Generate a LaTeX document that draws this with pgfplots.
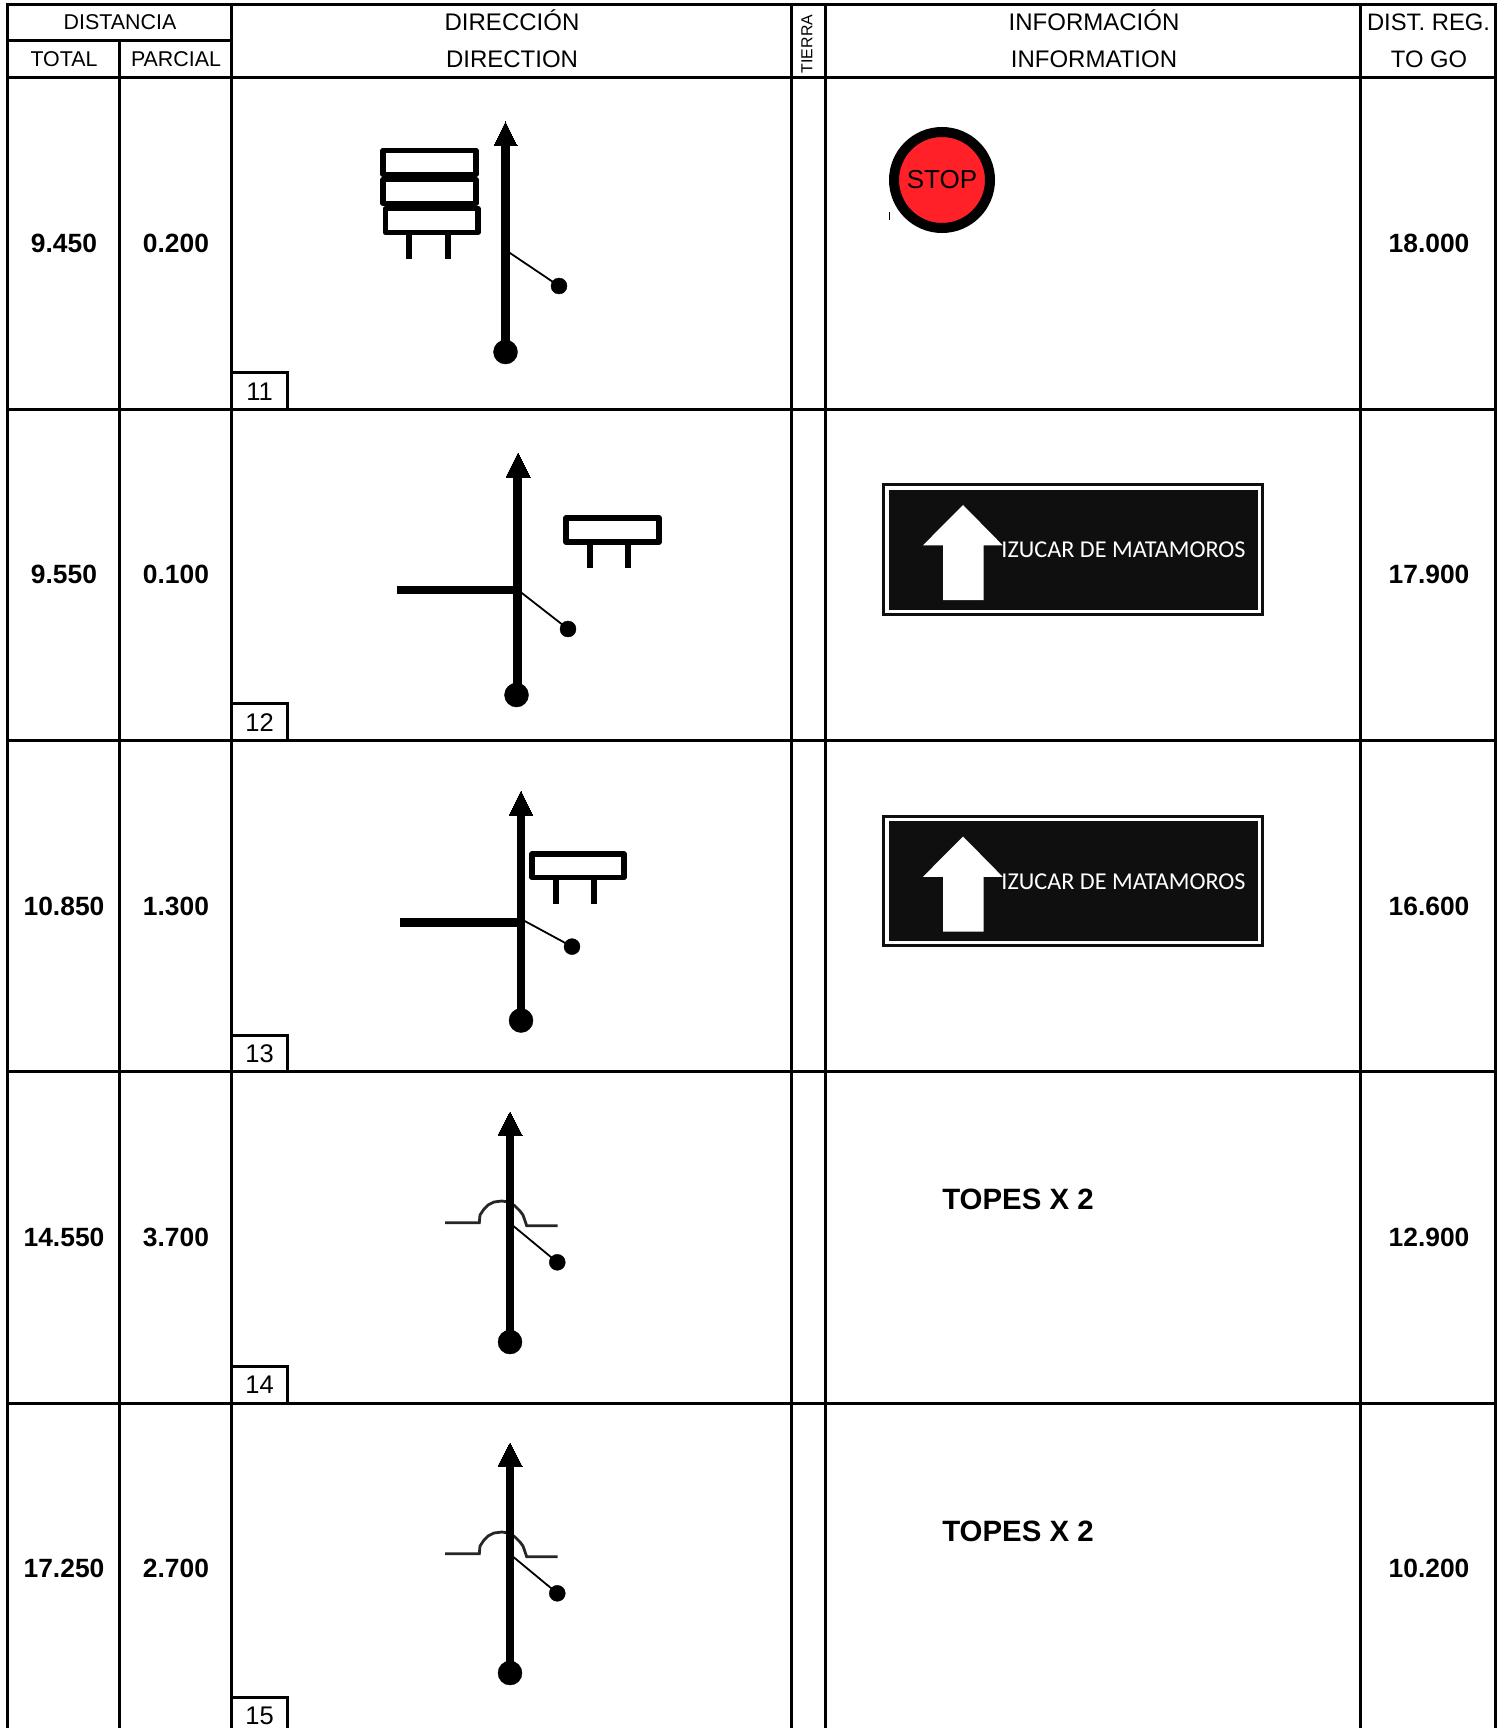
\documentclass[border=0pt]{standalone}
\usepackage{pgfplots}
\usepackage{fontspec}
\setmainfont{Liberation Sans}
\newfontfamily\calib{Carlito}
\pgfplotsset{compat=1.18}
\definecolor{signred}{HTML}{FF2028}
\definecolor{signblack}{HTML}{0F0F0F}
\newcommand{\fs}[1]{\fontsize{#1}{#1}\selectfont}
\newcommand{\hd}[4]{\node[anchor=center,inner sep=0pt] at (axis cs:#1,#2) {\fs{#3}\strut #4};}
\begin{document}
\begin{tikzpicture}
\path[use as bounding box] (0,0) rectangle (1503pt,1728pt);
\begin{axis}[
  at={(0,0)}, anchor=south west,
  scale only axis, width=1503pt, height=1728pt,
  xmin=0, xmax=1503, ymin=0, ymax=1728, y dir=reverse,
  hide axis, clip=true,
  after end axis/.code={
    \node[inner sep=0pt,text=black] at (axis cs:942,180) {\fs{26}STOP};
  },
]
% ---------- table rules
\pgfplotsset{rule/.style={black,line width=3pt,no markers,line cap=rect}}
\addplot[rule] coordinates {(7.5,4.5)(1495,4.5)};
\addplot[rule] coordinates {(7.5,41)(231,41)};
\addplot[rule] coordinates {(7.5,77.5)(1495,77.5)};
\addplot[rule] coordinates {(7.5,409)(1495,409)};
\addplot[rule] coordinates {(7.5,740)(1495,740)};
\addplot[rule] coordinates {(7.5,1071)(1495,1071)};
\addplot[rule] coordinates {(7.5,1403)(1495,1403)};
\addplot[rule] coordinates {(7.5,4.5)(7.5,1728)};
\addplot[rule] coordinates {(119,41)(119,1728)};
\addplot[rule] coordinates {(231.5,4.5)(231.5,1728)};
\addplot[rule] coordinates {(791,4.5)(791,1728)};
\addplot[rule] coordinates {(825.5,4.5)(825.5,1728)};
\addplot[rule] coordinates {(1360,4.5)(1360,1728)};
\addplot[rule] coordinates {(1495,4.5)(1495,1728)};
% ---------- kilometre boxes
\addplot[rule] coordinates {(233,372)(287.5,372)(287.5,409)};
\addplot[rule] coordinates {(233,703)(287.5,703)(287.5,740)};
\addplot[rule] coordinates {(233,1035)(287.5,1035)(287.5,1071)};
\addplot[rule] coordinates {(233,1366)(287.5,1366)(287.5,1403)};
\addplot[rule] coordinates {(233,1697)(287.5,1697)(287.5,1728)};
% ---------- stems
\pgfplotsset{stem/.style={black,line width=8.5pt,no markers},
  twig/.style={black,line width=1.8pt,no markers},
  head/.style={black,fill=black,line width=0pt,no markers},
  road/.style={black,line width=8.5pt,no markers},
  plate/.style={black,line width=5.5pt,no markers,fill=white,line join=round},
  leg/.style={black,line width=6pt,no markers},
  big/.style={only marks,mark=*,mark size=12pt,black},
  small/.style={only marks,mark=*,mark size=8pt,black},
  bump/.style={color=black!85,line width=2.8pt,no markers}}
% row 1
\addplot[stem] coordinates {(505.5,140)(505.5,352)};
\addplot[head] coordinates {(505.5,122)(517,146)(494,146)} -- cycle;
\addplot[big] coordinates {(505.5,352)};
\addplot[twig] coordinates {(505.5,250)(559,286)};
\addplot[small] coordinates {(559,286)};
\addplot[plate] coordinates {(383,150.5)(476,150.5)(476,174.5)(383,174.5)} -- cycle;
\addplot[plate] coordinates {(383,179.5)(476,179.5)(476,203.5)(383,203.5)} -- cycle;
\addplot[plate] coordinates {(385.5,208.5)(478,208.5)(478,232.5)(385.5,232.5)} -- cycle;
\addplot[leg] coordinates {(409,235)(409,259)};
\addplot[leg] coordinates {(447.5,235)(447.5,259)};
% row 2
\addplot[stem] coordinates {(517.5,470)(517.5,695)};
\addplot[head] coordinates {(518,453)(530,477)(506,477)} -- cycle;
\addplot[big] coordinates {(516.5,695)};
\addplot[road] coordinates {(397,590)(518,590)};
\addplot[twig] coordinates {(518,590)(568,629)};
\addplot[small] coordinates {(568,629)};
\addplot[plate] coordinates {(566,518)(659,518)(659,542)(566,542)} -- cycle;
\addplot[leg] coordinates {(590,545)(590,568)};
\addplot[leg] coordinates {(628,545)(628,568)};
% row 3
\addplot[stem] coordinates {(521,810)(521,1020)};
\addplot[head] coordinates {(521,791)(532.5,815)(509.5,815)} -- cycle;
\addplot[big] coordinates {(521,1020.5)};
\addplot[road] coordinates {(400,922.5)(521,922.5)};
\addplot[twig] coordinates {(521,919)(572,946.6)};
\addplot[small] coordinates {(572,946.6)};
\addplot[plate] coordinates {(532,854)(624,854)(624,877.5)(532,877.5)} -- cycle;
\addplot[leg] coordinates {(555.5,880)(555.5,904)};
\addplot[leg] coordinates {(594,880)(594,904)};
% row 4
\addplot[bump] coordinates {(445,1222.7)(479.3,1222.7)(480,1215)(484,1209)(488,1205)(494,1202)(501.7,1201)(509,1202)(515,1206)(520,1211)(523,1215)(526.7,1225.7)(557.7,1225.7)};
\addplot[stem] coordinates {(510,1130)(510,1342)};
\addplot[head] coordinates {(510,1112)(522,1135)(498,1135)} -- cycle;
\addplot[big] coordinates {(510,1342)};
\addplot[twig] coordinates {(511,1224)(557.3,1262.3)};
\addplot[small] coordinates {(557.3,1262.3)};
% row 5
\addplot[bump] coordinates {(445,1553.7)(479.3,1553.7)(480,1546)(484,1540)(488,1536)(494,1533)(501.7,1532)(509,1533)(515,1537)(520,1542)(523,1546)(526.7,1556.7)(557.7,1556.7)};
\addplot[stem] coordinates {(510,1461)(510,1673)};
\addplot[head] coordinates {(510,1443)(522,1466)(498,1466)} -- cycle;
\addplot[big] coordinates {(510,1673)};
\addplot[twig] coordinates {(511,1555)(557.3,1593.3)};
\addplot[small] coordinates {(557.3,1593.3)};
% ---------- STOP
\addplot[only marks,mark=*,mark size=48pt,mark options={fill=signred,draw=black,line width=10pt}] coordinates {(942,180)};
\addplot[black,line width=1pt,no markers] coordinates {(889,212)(889,220)};
% ---------- direction signs
\addplot[fill=white,draw=signblack,line width=3pt,no markers] coordinates {(883.2,484.5)(1262,484.5)(1262,614)(883.2,614)} -- cycle;
\addplot[fill=signblack,draw=none,no markers] coordinates {(889,489.5)(1257.5,489.5)(1257.5,609.5)(889,609.5)} -- cycle;
\addplot[fill=white,draw=none,no markers] coordinates {(963,505)(1002.7,545.3)(983.7,545.3)(983.7,600)(943,600)(943,545.3)(923,545.3)} -- cycle;
\node[inner sep=0pt,white] at (axis cs:1123.5,550) {\calib\fs{24.2}IZUCAR DE MATAMOROS};
\addplot[fill=white,draw=signblack,line width=3pt,no markers] coordinates {(883.2,816)(1262,816)(1262,945.5)(883.2,945.5)} -- cycle;
\addplot[fill=signblack,draw=none,no markers] coordinates {(889,821)(1257.5,821)(1257.5,941)(889,941)} -- cycle;
\addplot[fill=white,draw=none,no markers] coordinates {(963,836.5)(1002.7,876.8)(983.7,876.8)(983.7,931.5)(943,931.5)(943,876.8)(923,876.8)} -- cycle;
\node[inner sep=0pt,white] at (axis cs:1123.5,881.5) {\calib\fs{24.2}IZUCAR DE MATAMOROS};
% ---------- text
\hd{120}{25}{21.4}{DISTANCIA}
\hd{64}{62}{21.4}{TOTAL}
\hd{176}{62}{21.4}{PARCIAL}
\hd{512}{24}{24}{DIRECCIÓN}
\hd{512}{62.5}{24}{DIRECTION}
\hd{1094}{24}{24}{INFORMACIÓN}
\hd{1094}{62.5}{24}{INFORMATION}
\hd{1428.5}{25.5}{23.8}{DIST. REG.}
\hd{1429}{62.5}{23.8}{TO GO}
\node[inner sep=0pt,rotate=90] at (axis cs:807,44) {\fs{15.9}TIERRA};
\hd{259.5}{395}{25.5}{11}
\hd{259.5}{726}{25.5}{12}
\hd{259.5}{1057}{25.5}{13}
\hd{259.5}{1388.5}{25.5}{14}
\hd{259.5}{1719}{25.5}{15}
\newcommand{\bn}[3]{\node[inner sep=0pt,font=\bfseries] at (axis cs:#1,#2) {\fs{26.4}#3};}
\bn{64}{243}{9.450} \bn{176}{243}{0.200} \bn{1429}{243}{18.000}
\bn{64}{574}{9.550} \bn{176}{574}{0.100} \bn{1429}{574}{17.900}
\bn{64}{906}{10.850} \bn{176}{906}{1.300} \bn{1429}{906}{16.600}
\bn{64}{1237}{14.550} \bn{176}{1237}{3.700} \bn{1429}{1237}{12.900}
\bn{64}{1568}{17.250} \bn{176}{1568}{2.700} \bn{1429}{1568}{10.200}
\node[inner sep=0pt,font=\bfseries] at (axis cs:1018,1199) {\fs{29.4}TOPES X 2};
\node[inner sep=0pt,font=\bfseries] at (axis cs:1018,1531) {\fs{29.4}TOPES X 2};
\end{axis}
\end{tikzpicture}
\end{document}
